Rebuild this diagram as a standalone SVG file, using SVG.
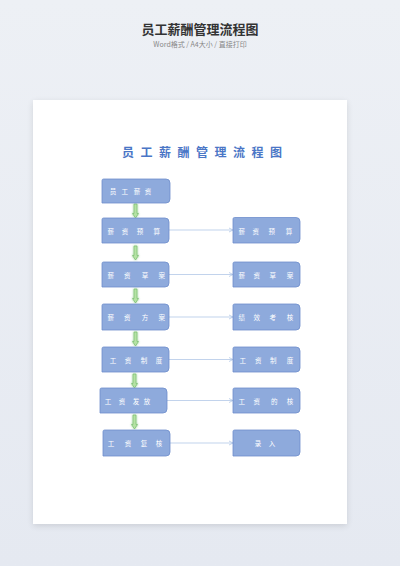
<svg xmlns="http://www.w3.org/2000/svg" width="400" height="566" viewBox="0 0 400 566">
<defs>
<linearGradient id="bg" x1="0" y1="0" x2="0" y2="1">
<stop offset="0" stop-color="#edf0f5"/>
<stop offset="1" stop-color="#e5e9f1"/>
</linearGradient>
<filter id="sh" x="-10%" y="-10%" width="120%" height="120%">
<feGaussianBlur in="SourceAlpha" stdDeviation="3"/>
<feOffset dy="2"/>
<feComponentTransfer><feFuncA type="linear" slope="0.12"/></feComponentTransfer>
<feMerge><feMergeNode/><feMergeNode in="SourceGraphic"/></feMerge>
</filter>
<filter id="glow" x="-100%" y="-50%" width="300%" height="200%">
<feGaussianBlur in="SourceGraphic" stdDeviation="1"/>
<feMerge><feMergeNode/><feMergeNode in="SourceGraphic"/></feMerge>
</filter>
<marker id="ah" markerWidth="6" markerHeight="6" refX="5" refY="3" orient="auto" markerUnits="userSpaceOnUse">
<path d="M1,1 L5,3 L1,5" fill="none" stroke="#a8c0e4" stroke-width="0.7"/>
</marker>
<path id="dn" d="M-1.5,0 H1.5 V9.5 H3 L0,14 L-3,9.5 H-1.5 Z"/>
</defs>
<style>
.hd{font-family:"Noto Sans CJK SC","Noto Sans",sans-serif;}
.box{fill:#8eaadc;stroke:#6f8ecb;stroke-width:0.8;}
.bt{font-family:"Noto Sans CJK SC",sans-serif;font-size:6.5px;fill:#ffffff;text-anchor:middle;dominant-baseline:central;}
.cn{stroke:#a8c0e4;stroke-width:0.7;fill:none;}
.ga{fill:#b5e2a4;stroke:#6fb868;stroke-width:0.6;}
</style>
<rect width="400" height="566" fill="url(#bg)"/>
<text class="hd" x="200" y="34" text-anchor="middle" font-size="13" font-weight="bold" fill="#333333">员工薪酬管理流程图</text>
<text class="hd" x="200" y="46.5" text-anchor="middle" font-size="7" fill="#888888">Word格式 / A4大小 / 直接打印</text>
<rect x="33" y="100" width="314" height="424" fill="#ffffff" filter="url(#sh)"/>
<text x="122" y="156.5" font-family="Noto Sans CJK SC,sans-serif" font-size="12" font-weight="bold" fill="#4a76c6" letter-spacing="6.5">员工薪酬管理流程图</text>

<g id="connectors">
<line class="cn" x1="169" y1="230" x2="233" y2="230" marker-end="url(#ah)"/>
<line class="cn" x1="169" y1="274.5" x2="233" y2="274.5" marker-end="url(#ah)"/>
<line class="cn" x1="169" y1="317" x2="233" y2="317" marker-end="url(#ah)"/>
<line class="cn" x1="169" y1="359.5" x2="233" y2="359.5" marker-end="url(#ah)"/>
<line class="cn" x1="167" y1="400.5" x2="233" y2="400.5" marker-end="url(#ah)"/>
<line class="cn" x1="170" y1="443" x2="233" y2="443" marker-end="url(#ah)"/>
<g filter="url(#glow)">
<use href="#dn" class="ga" x="135.5" y="204"/>
<use href="#dn" class="ga" x="135.5" y="246"/>
<use href="#dn" class="ga" x="135.5" y="289"/>
<use href="#dn" class="ga" x="135.5" y="332"/>
<use href="#dn" class="ga" x="134.5" y="374"/>
<use href="#dn" class="ga" x="134.5" y="415"/>
</g>
</g>

<g id="n-l1"><path class="box" d="M103.5,179 H166 A4,4 0 0 1 170,183 V199 A4,4 0 0 1 166,203 H102 V180.5 A1.5,1.5 0 0 1 103.5,179 Z"/><text class="bt" x="113 124.7 137 148" y="191">员工薪资</text></g>
<g id="n-l2"><path class="box" d="M103.5,218 H165 A4,4 0 0 1 169,222 V239 A4,4 0 0 1 165,243 H102 V219.5 A1.5,1.5 0 0 1 103.5,218 Z"/><text class="bt" x="110.7 125 140 156.7" y="230.5">薪资预算</text></g>
<g id="n-l3"><path class="box" d="M103.5,262 H165 A4,4 0 0 1 169,266 V283 A4,4 0 0 1 165,287 H102 V263.5 A1.5,1.5 0 0 1 103.5,262 Z"/><text class="bt" x="110.7 127.3 145 161.7" y="274.5">薪资草案</text></g>
<g id="n-l4"><path class="box" d="M103.5,304 H165 A4,4 0 0 1 169,308 V326 A4,4 0 0 1 165,330 H102 V305.5 A1.5,1.5 0 0 1 103.5,304 Z"/><text class="bt" x="110.7 127.3 145 161.7" y="317">薪资方案</text></g>
<g id="n-l5"><path class="box" d="M103.5,347 H165 A4,4 0 0 1 169,351 V368 A4,4 0 0 1 165,372 H102 V348.5 A1.5,1.5 0 0 1 103.5,347 Z"/><text class="bt" x="113 128 144 159" y="359.5">工资制度</text></g>
<g id="n-l6"><path class="box" d="M101.5,388 H163 A4,4 0 0 1 167,392 V409 A4,4 0 0 1 163,413 H100 V389.5 A1.5,1.5 0 0 1 101.5,388 Z"/><text class="bt" x="108 122 136 147" y="400.5">工资发放</text></g>
<g id="n-l7"><path class="box" d="M104.5,430 H166 A4,4 0 0 1 170,434 V452 A4,4 0 0 1 166,456 H103 V431.5 A1.5,1.5 0 0 1 104.5,430 Z"/><text class="bt" x="111 128 144 159" y="443">工资复核</text></g>

<g id="n-r2"><path class="box" d="M234.5,217.5 H296 A4,4 0 0 1 300,221.5 V239 A4,4 0 0 1 296,243 H233 V219 A1.5,1.5 0 0 1 234.5,217.5 Z"/><text class="bt" x="241.7 255.7 271.7 289" y="230.5">薪资预算</text></g>
<g id="n-r3"><path class="box" d="M234.5,262 H296 A4,4 0 0 1 300,266 V283 A4,4 0 0 1 296,287 H233 V263.5 A1.5,1.5 0 0 1 234.5,262 Z"/><text class="bt" x="241.7 256.7 272.7 290" y="274.5">薪资草案</text></g>
<g id="n-r4"><path class="box" d="M234.5,304 H296 A4,4 0 0 1 300,308 V326 A4,4 0 0 1 296,330 H233 V305.5 A1.5,1.5 0 0 1 234.5,304 Z"/><text class="bt" x="241.7 256.7 272.7 290" y="317">绩效考核</text></g>
<g id="n-r5"><path class="box" d="M234.5,347 H296 A4,4 0 0 1 300,351 V368 A4,4 0 0 1 296,372 H233 V348.5 A1.5,1.5 0 0 1 234.5,347 Z"/><text class="bt" x="242.7 258.3 273.3 290" y="359.5">工资制度</text></g>
<g id="n-r6"><path class="box" d="M234.5,388 H296 A4,4 0 0 1 300,392 V409 A4,4 0 0 1 296,413 H233 V389.5 A1.5,1.5 0 0 1 234.5,388 Z"/><text class="bt" x="241.7 256.7 274.3 290" y="400.5">工资的核</text></g>
<g id="n-r7"><path class="box" d="M234.5,430 H296 A4,4 0 0 1 300,434 V452 A4,4 0 0 1 296,456 H233 V431.5 A1.5,1.5 0 0 1 234.5,430 Z"/><text class="bt" x="258 272" y="443">录入</text></g>
</svg>
